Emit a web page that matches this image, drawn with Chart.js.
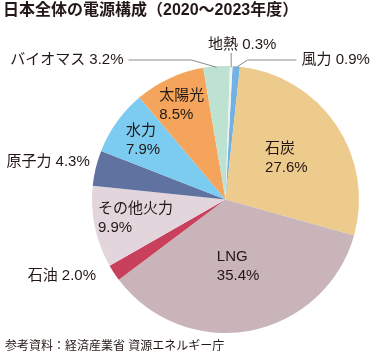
<!DOCTYPE html>
<html><head><meta charset="utf-8">
<script src="https://cdn.jsdelivr.net/npm/chart.js@4"></script>
<style>html,body{margin:0;padding:0;background:#fff;overflow:hidden}canvas{display:block}</style>
</head><body>
<canvas id="c" width="379" height="355"></canvas>
<script>
const TITLE = '日本全体の電源構成（2020～2023年度）';
const SOURCE = '参考資料：経済産業省 資源エネルギー庁';
const categories = ['風力','石炭','LNG','石油','その他火力','原子力','水力','太陽光','バイオマス','地熱'];
const shares = [0.9, 27.6, 35.4, 2.0, 9.9, 4.3, 7.9, 8.5, 3.2, 0.3];
const sliceColors = ['#72b2e2','#edcb8c','#c9b4ba','#c9405c','#e2d5dc','#5f72a0','#7ccbf1','#f4a55b','#bde2d2','#eef2f2'];

const FAMILY = '"Liberation Sans", "Noto Sans CJK JP", sans-serif';
const TEXT_COLOR = '#231815';
const LINE_COLOR = '#8a8a8a';

// label placement (relative to pie geometry)
const placement = [
  {mode:'top', side:'right', tx:76, ty:-139.5, elbow:22},   // 風力
  {mode:'in', r:0.55},                                       // 石炭
  {mode:'in', r:0.51},                                       // LNG
  {mode:'out', dx:-18, dy:3},                                // 石油
  {mode:'in', r:0.69},                                       // その他火力
  {mode:'out', dx:-6, dy:-6},                                // 原子力
  {mode:'in', r:0.76},                                       // 水力
  {mode:'in', r:0.78},                                       // 太陽光
  {mode:'top', side:'left', tx:-102, ty:-139.5, elbow:-34},  // バイオマス
  {mode:'top', side:'center', ty:-154.5, tdx:11}             // 地熱
];

const pct = v => v.toFixed(1) + '%';

const labelPlugin = {
  id: 'labels',
  afterDraw(chart) {
    const ctx = chart.ctx;
    const meta = chart.getDatasetMeta(0);
    ctx.save();
    ctx.fillStyle = TEXT_COLOR;
    ctx.textBaseline = 'middle';
    // title
    ctx.font = 'bold 16px ' + FAMILY;
    ctx.textAlign = 'left';
    ctx.fillText(TITLE, 3, 11);
    // source
    ctx.font = '12px ' + FAMILY;
    ctx.fillText(SOURCE, 5, 347);

    meta.data.forEach((arc, i) => {
      const p = arc.getProps(['x','y','startAngle','endAngle','outerRadius'], true);
      const mid = (p.startAngle + p.endAngle) / 2;
      const cx = p.x, cy = p.y, R = p.outerRadius;
      const pl = placement[i];
      ctx.font = '15px ' + FAMILY;
      ctx.fillStyle = TEXT_COLOR;
      if (pl.mode === 'in') {
        const lx = cx + Math.cos(mid) * R * pl.r;
        const ly = cy + Math.sin(mid) * R * pl.r;
        const l1 = categories[i], l2 = pct(shares[i]);
        const w = Math.max(ctx.measureText(l1).width, ctx.measureText(l2).width);
        ctx.textAlign = 'left';
        ctx.fillText(l1, lx - w / 2, ly - 9.5);
        ctx.fillText(l2, lx - w / 2, ly + 9.5);
      } else if (pl.mode === 'out') {
        const ex = cx + Math.cos(mid) * R;
        const ey = cy + Math.sin(mid) * R;
        ctx.textAlign = 'right';
        ctx.fillText(categories[i] + ' ' + pct(shares[i]), ex + pl.dx, ey + pl.dy);
      } else {
        const ex = cx + Math.cos(mid) * (R - 1);
        const ey = cy + Math.sin(mid) * (R - 1);
        const text = categories[i] + ' ' + pct(shares[i]);
        ctx.strokeStyle = LINE_COLOR;
        ctx.lineWidth = 1;
        if (pl.side === 'center') {
          const ty = cy + pl.ty;
          ctx.beginPath();
          ctx.moveTo(ex, ey);
          ctx.lineTo(ex, ty + 8);
          ctx.stroke();
          ctx.textAlign = 'center';
          ctx.fillText(text, ex + pl.tdx, ty);
        } else {
          const ty = cy + pl.ty;
          const tx = cx + pl.tx;
          const bx = cx + pl.elbow;
          ctx.beginPath();
          ctx.moveTo(ex, ey);
          ctx.lineTo(bx, ty);
          if (pl.side === 'right') {
            ctx.lineTo(tx - 5, ty);
          } else {
            ctx.lineTo(tx + 5, ty);
          }
          ctx.stroke();
          ctx.textAlign = pl.side === 'right' ? 'left' : 'right';
          ctx.fillText(text, tx, ty);
        }
      }
    });
    ctx.restore();
  }
};

new Chart(document.getElementById('c'), {
  type: 'pie',
  data: {
    labels: categories,
    datasets: [{
      data: shares,
      backgroundColor: sliceColors,
      borderWidth: 0
    }]
  },
  options: {
    responsive: false,
    animation: false,
    rotation: 3,
    layout: { padding: { left: 92, right: 20, top: 66, bottom: 22 } },
    plugins: {
      legend: { display: false },
      tooltip: { enabled: false },
      title: { display: false }
    }
  },
  plugins: [labelPlugin]
});
</script>
</body></html>
